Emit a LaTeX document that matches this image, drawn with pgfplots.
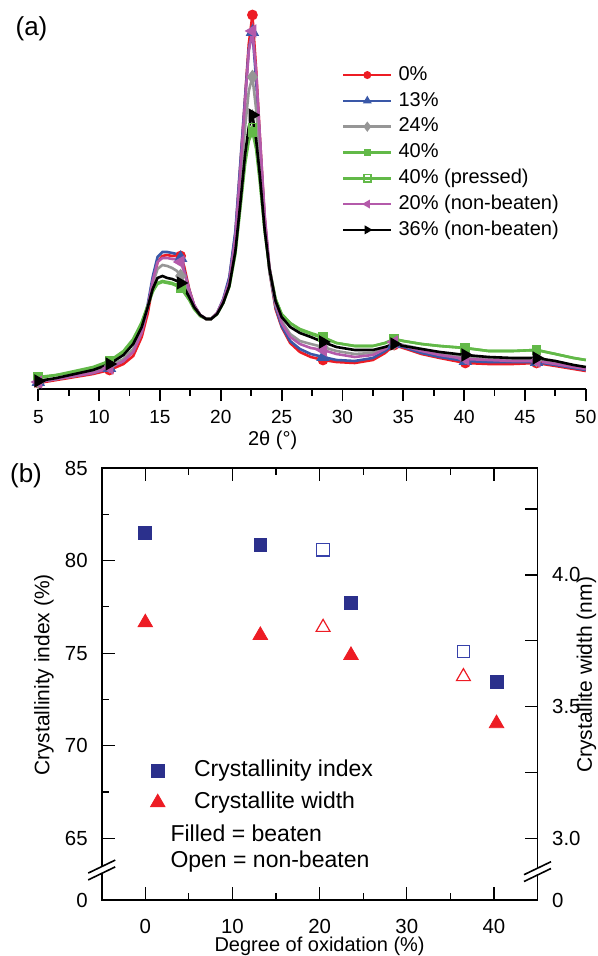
\documentclass[border=0pt]{standalone}
\usepackage{pgfplots}
\pgfplotsset{compat=1.18}
\usepackage{pgfplotstable}
\usepackage{fontspec}
\setmainfont{Liberation Sans}
\definecolor{cR}{RGB}{237,28,36}
\definecolor{cB}{RGB}{58,88,168}
\definecolor{cG}{RGB}{150,150,150}
\definecolor{cGr}{RGB}{98,185,72}
\definecolor{cM}{RGB}{180,90,170}
\definecolor{cNavy}{RGB}{43,48,140}
\definecolor{cNavyO}{RGB}{55,65,170}

\pgfplotstableread{
x R B G Gr GrO M K
5 6 7 7 12 11 7 8
6.5 9 10 10 14 14 10 11
8 12 13 13 18 17 13 15
9.5 15 16 17 22 21 16 19
10.85 19 21 23 28 28 21 25
12 25 28 30 38 37 28 34
12.8 33 38 40 50 49 37 45
13.5 52 58 58 67 66 56 62
14 76 85 82 84 83 82 82
14.4 103 112 105 98 97 108 100
14.8 127 132 120 105 106 127 111
15.2 133 137 124 107 108 131 113
15.6 134 137 123 106 107 131 111
16 133 136 121 105 106 130 110
16.4 134 135 118 103 104 130 108
16.7 133 131 113 101 102 127 106
17 122 118 106 96 97 117 101
17.4 100 99 95 89 90 99 92
17.8 84 84 83 80 81 84 82
18.3 74 74 74 73 73 74 74
18.8 70 70 70 70 70 70 70
19.2 70 70 70 70 70 70 70
19.7 76 76 76 75 75 76 75
20.2 88 90 88 86 86 89 86
20.7 110 112 106 102 103 108 103
21.2 155 158 145 135 137 152 138
21.6 222 225 205 180 183 218 185
22 292 292 262 225 229 288 235
22.3 345 340 298 248 252 338 262
22.6 374 357 312 257 262 358 274
22.9 320 310 280 240 244 318 250
23.2 255 250 233 208 211 255 215
23.6 172 170 165 158 160 175 160
24 118 118 118 120 121 122 120
24.5 80 82 84 90 90 86 88
25 62 63 68 75 75 66 72
25.7 46 48 55 66 66 52 62
26.5 37 40 48 60 59 45 56
27.4 32 35 45 56 55 41 52
28.4 29 32 42 52 51 39 47
29.5 27 29 38 46 46 35 42
31 26 28 35 43 43 32 39
32.5 29 31 36 43 43 34 39
33.5 36 38 41 46 46 40 42
34.25 44 45 46 50 50 47 45
35 41 42 44 48 48 43 43
36.5 35 36 40 45 45 38 40
38 31 32 36 43 43 34 37
40.1 26 28 32 41 41 30 34
42 25 27 30 38 38 29 32
44 25 27 29 38 38 28 31
45.95 26 27 29 39 39 28 31
47.5 23 24 26 35 35 25 28
49 20 21 23 31 31 22 24
50 18 19 21 29 29 20 22
}\xrd

\pgfplotsset{xrdline/.style={line width=1.3pt, mark indices={1,5,16,30,40,45,49,52}, forget plot}}

\begin{document}
\begin{tikzpicture}[font=\fontsize{10}{12}\selectfont]
\path[use as bounding box] (-19.15pt,-283.5pt) rectangle (279.85pt,194.5pt);
% ---------------- panel (a)
\begin{axis}[name=top, at={(0pt,0pt)}, anchor=south west,
  scale only axis, width=273.75pt, height=194.5pt,
  xmin=5, xmax=50, ymin=0, ymax=389, clip=false,
  axis x line=bottom, axis y line=none, ytick=\empty,
  x axis line style={-, line width=1pt},
  xtick={5,10,...,50}, minor x tick num=1,
  tick align=outside, major tick length=6pt, minor tick length=3.3pt,
  every tick/.style={black, line width=0.9pt},
  /pgf/number format/assume math mode=true,
  xticklabel style={font=\fontsize{9.5}{11}\selectfont, yshift=-1pt},
  xlabel={2θ (°)},
  xlabel style={at={(axis description cs:0.428,0)}, anchor=center, yshift=-25.5pt},
  legend cell align=left,
  legend style={at={(axis description cs:0.554,0.833)}, anchor=north west,
    draw=none, fill=none, inner sep=0pt, row sep=3.2pt, column sep=3pt,
    nodes={inner sep=0pt, text height=7.5pt, text depth=2.2pt, anchor=west},
    font=\fontsize{10}{12}\selectfont},
  legend image code/.code={%
    \draw[#1, mark=none] (0pt,0pt) -- (24pt,0pt);
    \draw[#1, draw opacity=0] plot coordinates {(12pt,0pt)};},
]
\addplot[xrdline, cR, mark=*, mark size=2pt] table[x=x,y=R]{\xrd};
\addplot[xrdline, cB, mark=triangle*, mark size=2.6pt] table[x=x,y=B]{\xrd};
\addplot[xrdline, cG, mark=diamond*, mark size=2.6pt] table[x=x,y=G]{\xrd};
\addplot[xrdline, cGr, mark=square*, mark size=1.8pt] table[x=x,y=Gr]{\xrd};
\addplot[xrdline, cGr, mark=square, mark size=1.8pt, mark options={fill=white, line width=0.8pt}] table[x=x,y=GrO]{\xrd};
\addplot[xrdline, cM, mark=triangle*, mark size=2.6pt, mark options={rotate=90}] table[x=x,y=M]{\xrd};
\addplot[xrdline, black, mark=triangle*, mark size=2.6pt, mark options={rotate=-90}] table[x=x,y=K]{\xrd};
\addlegendimage{cR, line width=1.3pt, mark=*, mark size=2pt}
\addlegendentry{0\%}
\addlegendimage{cB, line width=1.3pt, mark=triangle*, mark size=2.6pt}
\addlegendentry{13\%}
\addlegendimage{cG, line width=1.3pt, mark=diamond*, mark size=2.6pt}
\addlegendentry{24\%}
\addlegendimage{cGr, line width=1.3pt, mark=square*, mark size=1.8pt}
\addlegendentry{40\%}
\addlegendimage{cGr, line width=1.3pt, mark=square, mark size=1.8pt, mark options={fill=white, line width=0.8pt, draw opacity=1}}
\addlegendentry{40\% (pressed)}
\addlegendimage{cM, line width=1.3pt, mark=triangle*, mark size=2.6pt, mark options={rotate=90}}
\addlegendentry{20\% (non-beaten)}
\addlegendimage{black, line width=1.3pt, mark=triangle*, mark size=2.6pt, mark options={rotate=-90}}
\addlegendentry{36\% (non-beaten)}
\end{axis}
\node[font=\fontsize{13}{15}\selectfont] at (-3.4pt,180pt) {(a)};
\node[font=\fontsize{13}{15}\selectfont] at (-6.15pt,-43.5pt) {(b)};
% ---------------- panel (b) left axis
\begin{axis}[name=bot, at={(31.7pt,-255.5pt)}, anchor=south west,
  scale only axis, width=217.9pt, height=216pt,
  xmin=-5, xmax=45, ymin=61.67, ymax=85,
  axis line style={line width=0.9pt},
  xtick={0,10,...,40}, minor xtick={5,15,25,35},
  ytick={61.67,65,70,75,80,85}, yticklabels={0,65,70,75,80,85},
  minor ytick={67.5,72.5,77.5,82.5},
  ytick pos=left, xtick pos=both, xticklabel pos=left,
  tick align=inside, major tick length=6.5pt, minor tick length=3.5pt,
  every tick/.style={black, line width=0.6pt},
  /pgf/number format/assume math mode=true,
  ticklabel style={font=\fontsize{10.2}{12}\selectfont},
  yticklabel style={xshift=-3.5pt},
  xticklabel style={yshift=-6pt},
  every axis y label/.style={at={(axis description cs:-0.1324,0.521)}, anchor=center, rotate=90, font=\fontsize{10.5}{12}\selectfont},
  ylabel={Crystallinity index (\%)},
  xlabel={Degree of oxidation (\%)},
  xlabel style={at={(axis description cs:0.5,0)}, anchor=center, yshift=-23pt},
  legend cell align=left,
  legend style={at={(axis description cs:0.111,0.3255)}, anchor=north west,
    draw=none, fill=none, inner sep=0pt, row sep=4.9pt, column sep=14.5pt,
    nodes={inner sep=0pt, text height=8.5pt, text depth=2.5pt, anchor=west},
    font=\fontsize{11.5}{13}\selectfont},
]
\addplot[only marks, mark=square*, color=cNavy, mark size=3.2pt, forget plot] coordinates {(0,81.5) (13.2,80.85) (23.6,77.72) (40.3,73.47)};
\addplot[only marks, mark=square, color=cNavyO, mark size=3.1pt, line width=0.6pt, forget plot] coordinates {(20.4,80.58) (36.5,75.1)};
\addlegendimage{only marks, mark=square*, color=cNavy, mark size=3.2pt}
\addlegendentry{Crystallinity index}
\addlegendimage{only marks, mark=triangle*, color=cR, mark size=4.2pt}
\addlegendentry{Crystallite width}
\node[anchor=west, inner sep=0pt, font=\fontsize{11.5}{13}\selectfont] at (axis description cs:0.157,0.1537) {Filled = beaten};
\node[anchor=west, inner sep=0pt, font=\fontsize{11.5}{13}\selectfont] at (axis description cs:0.157,0.0896) {Open = non-beaten};
\end{axis}
% ---------------- panel (b) right axis
\begin{axis}[at={(31.7pt,-255.5pt)}, anchor=south west,
  scale only axis, width=217.9pt, height=216pt,
  xmin=-5, xmax=45, ymin=2.766, ymax=4.406,
  axis x line=none, axis y line*=right,
  y axis line style={-, line width=0.9pt},
  ytick={2.766,3,3.5,4}, yticklabels={0,3.0,3.5,4.0},
  minor ytick={3.25,3.75,4.25},
  tick align=inside, major tick length=6.5pt, minor tick length=6.5pt,
  every tick/.style={black, line width=0.6pt},
  /pgf/number format/assume math mode=true,
  ticklabel style={font=\fontsize{10.2}{12}\selectfont},
  yticklabel style={xshift=3.8pt},
  every axis y label/.style={at={(axis description cs:1.1124,0.521)}, anchor=center, rotate=90, font=\fontsize{10.5}{12}\selectfont},
  ylabel={Crystallite width (nm)},
]
\addplot[only marks, mark=triangle*, color=cR, mark size=4.2pt] coordinates {(0,3.819) (13.2,3.771) (23.6,3.695) (40.3,3.436)};
\addplot[only marks, mark=triangle, color=cR, mark size=4.0pt, line width=0.6pt] coordinates {(20.4,3.801) (36.5,3.614)};
\end{axis}
% axis breaks
\begin{scope}[shift={(bot.south west)}, yshift=15pt]
\fill[white] (-6.75pt,-4.95pt) -- (6.75pt,1.55pt) -- (6.75pt,4.95pt) -- (-6.75pt,-1.55pt) -- cycle;
\draw[line width=0.8pt] (-6.75pt,-4.95pt) -- (6.75pt,1.55pt);
\draw[line width=0.8pt] (-6.75pt,-1.55pt) -- (6.75pt,4.95pt);
\end{scope}
\begin{scope}[shift={(bot.south east)}, yshift=14.2pt]
\fill[white] (-6.75pt,-4.95pt) -- (6.75pt,1.55pt) -- (6.75pt,4.95pt) -- (-6.75pt,-1.55pt) -- cycle;
\draw[line width=0.8pt] (-6.75pt,-4.95pt) -- (6.75pt,1.55pt);
\draw[line width=0.8pt] (-6.75pt,-1.55pt) -- (6.75pt,4.95pt);
\end{scope}
\end{tikzpicture}
\end{document}
